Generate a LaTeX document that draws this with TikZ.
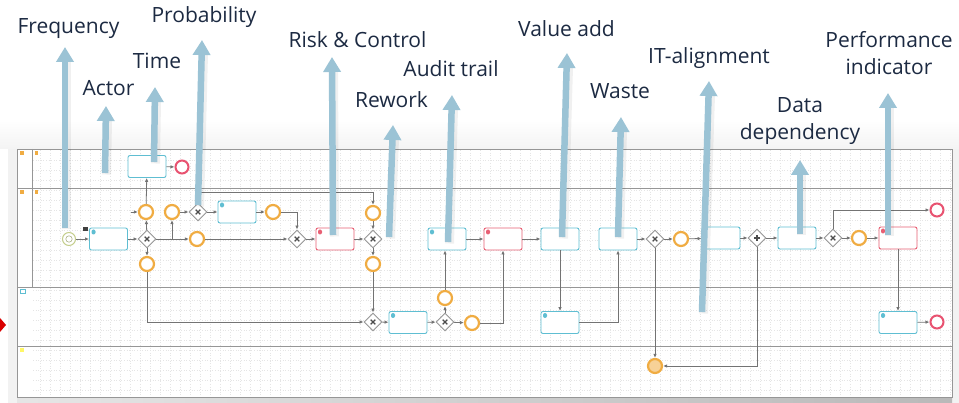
\documentclass[tikz,border=0pt]{standalone}
\usepackage{fontspec}
\setmainfont{Open Sans}
\usetikzlibrary{positioning}
\usetikzlibrary{shapes.geometric,arrows.meta}

\definecolor{labelnavy}{RGB}{28,42,66}
\definecolor{calloutblue}{RGB}{155,195,213}
\definecolor{taskteal}{RGB}{95,190,210}
\definecolor{taskred}{RGB}{232,96,116}
\definecolor{eventorange}{RGB}{240,172,66}
\definecolor{endred}{RGB}{232,82,112}
\definecolor{startgreen}{RGB}{196,206,140}
\definecolor{flowgray}{RGB}{115,115,115}
\definecolor{lanegray}{RGB}{150,150,150}

\tikzset{
  lbl/.style={font=\fontsize{21}{27.5}\selectfont, text=labelnavy, inner sep=0pt, anchor=base, align=center},
  callout/.style={draw=calloutblue, line width=6.5pt, -{Triangle[width=17pt,length=15pt]}},
  calloutshade/.style={draw=black, opacity=0.06, line width=9pt},
  task/.style={draw=taskteal, fill=white, line width=0.9pt, rounded corners=2pt,
    minimum width=38pt, minimum height=22pt, inner sep=0pt},
  redtask/.style={task, draw=taskred},
  marked/.style={path picture={\fill[#1] ([shift={(2pt,-1.5pt)}]path picture bounding box.north west) rectangle ++(4pt,-5pt);}},
  gateway/.style={diamond, draw=lanegray, fill=white, line width=0.9pt, minimum size=18pt, inner sep=0pt},
  xgate/.style={gateway, path picture={
    \draw[line width=1.3pt, black!70] ([shift={(-2.3pt,-2.3pt)}]path picture bounding box.center) -- ++(4.6pt,4.6pt)
      ([shift={(-2.3pt,2.3pt)}]path picture bounding box.center) -- ++(4.6pt,-4.6pt);}},
  pgate/.style={gateway, path picture={
    \draw[line width=1.3pt, black!70] ([shift={(-3pt,0pt)}]path picture bounding box.center) -- ++(6pt,0pt)
      ([shift={(0pt,-3pt)}]path picture bounding box.center) -- ++(0pt,6pt);}},
  event/.style={circle, draw=eventorange, fill=white, line width=2.2pt, minimum size=14pt, inner sep=0pt},
  msgevent/.style={event, fill=eventorange!55},
  endevent/.style={circle, draw=endred, fill=white, line width=2pt, minimum size=13pt, inner sep=0pt},
  startevent/.style={circle, draw=startgreen, fill=white, line width=1pt, minimum size=13pt, inner sep=0pt,
    path picture={\draw[startgreen!80!black, line width=0.5pt] (path picture bounding box.center) circle (3.2pt);}},
  flow/.style={draw=flowgray, line width=0.8pt, -{Latex[length=4pt,width=3.5pt]}},
  lane/.style={draw=lanegray, line width=0.9pt},
  gridline/.style={draw=gray!20, line width=0.4pt, dash pattern=on 0.6pt off 2pt},
}

\begin{document}
\begin{tikzpicture}[x=1pt, y=-1pt]
            \useasboundingbox (0,0) rectangle (959,403);

            % Draw the backdrop
            \fill[white] (0,0) rectangle (959,403);
            \shade[top color=white, bottom color=gray!9] (0,120) rectangle (959,149);
            \fill[gray!10] (8,149) rectangle (17,403);
            \fill[gray!10] (952,149) rectangle (959,403);
            \shade[left color=gray!20, right color=gray!55] (17,398) rectangle (952,403);
            \fill[red!85!black] (0,318) -- (6,325) -- (0,332) -- cycle;

            % Draw the pools and lanes
            \fill[white] (17,149) rectangle (952,397);
            \foreach \gx in {40,50,...,950} \draw[gridline] (\gx,150) -- (\gx,396);
            \foreach \gy in {160,170,...,390} \draw[gridline] (33,\gy) -- (951,\gy);
            \draw[lane] (17,149) rectangle (952,397);
            \draw[lane] (17,188) -- (952,188);
            \draw[lane] (17,287) -- (952,287);
            \draw[lane] (17,346) -- (952,346);
            \draw[lane] (32,149) -- (32,287);
            \fill[eventorange] (20,151) rectangle (24,155);
            \fill[eventorange] (20,190) rectangle (24,194);
            \fill[eventorange] (35,151) rectangle (38,155);
            \fill[eventorange] (35,190) rectangle (38,194);
            \draw[taskteal, line width=0.6pt] (20,289) rectangle (25,293);
            \fill[yellow!60] (20,348) rectangle (24,352);

            % Draw the first lane
            \node[task] (check) at (147,166.5) {};
            \node[endevent] (stop) at (182,167) {};

            % Draw the second lane
            \node[startevent] (day) at (69,239) {};
            \node[task, marked=taskteal] (request) at (108.5,239) {};
            \fill[black!75] (83,227) rectangle (88,231);
            \node[xgate] (split) at (147,239) {};
            \node[event] (info) at (146,212) {};
            \coordinate (infoin) at (131,212);
            \node[event] (applied) at (172,212) {};
            \node[xgate] (choice) at (198,212) {};
            \node[task, marked=taskteal] (verify) at (237,212) {};
            \node[event] (verified) at (273,212) {};
            \node[event] (pending) at (197,239) {};
            \node[xgate] (joinA) at (297,239) {};
            \node[event] (rejected) at (147,264) {};
            \node[redtask, marked=taskred] (approve) at (335,239) {};
            \node[xgate] (joinB) at (373,239) {};
            \node[event] (waiting) at (373,213) {};
            \node[event] (checked) at (373,264) {};
            \node[task, marked=taskteal] (register) at (447,239) {};
            \node[redtask, marked=taskred] (archive) at (503,239) {};
            \node[task] (plan) at (560,239) {};
            \node[task] (prepare) at (618,239) {};
            \node[xgate] (choiceC) at (655,239) {};
            \node[event] (notified) at (681,239) {};
            \node[task] (update) at (721,238) {};
            \node[pgate] (fork) at (757,238) {};
            \node[task] (publish) at (797,238) {};
            \node[xgate] (choiceD) at (833,238) {};
            \node[event] (ready) at (859,238) {};
            \node[redtask, marked=taskred] (close) at (898,238) {};
            \node[endevent] (cancelled) at (937,210) {};

            % Draw the third and fourth lane
            \node[xgate] (joinC) at (373,322) {};
            \node[task, marked=taskteal] (digital) at (408,322.5) {};
            \node[xgate] (choiceB) at (445,322) {};
            \node[event] (signed) at (445,298) {};
            \node[event] (unsigned) at (472,323) {};
            \node[task, marked=taskteal] (execute) at (560,322.5) {};
            \node[task, marked=taskteal] (invoice) at (898,322.5) {};
            \node[endevent] (done) at (937,322) {};
            \node[msgevent] (message) at (655,366) {};

            % Draw the sequence flows
            \draw[flow] (day) -- (request);
            \draw[flow] (request) -- (split);
            \draw[flow] (split) -- (info);
            \draw[flow] (infoin) -- (info);
            \draw[flow] (info) -- (check);
            \draw[flow] (check) -- (stop);
            \draw[flow] (split) -- (pending);
            \draw[flow] (split) -| (applied);
            \draw[flow] (applied) -- (choice);
            \draw[flow] (choice) -- (verify);
            \draw[flow] (verify) -- (verified);
            \draw[flow] (verified) -| (joinA);
            \draw[flow] (pending) -- (joinA);
            \draw[flow] (joinA) -- (approve);
            \draw[flow] (approve) -- (joinB);
            \draw[flow] (choice.north) -- ++(0,-10) -| (waiting);
            \draw[flow] (waiting) -- (joinB);
            \draw[flow] (joinB) -- (checked);
            \draw[flow] (checked) -- (joinC);
            \draw[flow] (split) -- (rejected);
            \draw[flow] (rejected) |- (joinC);
            \draw[flow] (joinC) -- (digital);
            \draw[flow] (digital) -- (choiceB);
            \draw[flow] (choiceB) -- (signed);
            \draw[flow] (signed) -- (signed |- register.south);
            \draw[flow] (choiceB) -- (unsigned);
            \draw[flow] (unsigned) -| (archive);
            \draw[flow] (register) -- (archive);
            \draw[flow] (archive) -- (plan);
            \draw[flow] (plan) -- (execute);
            \draw[flow] (execute) -| (prepare);
            \draw[flow] (prepare) -- (choiceC);
            \draw[flow] (choiceC) -- (notified);
            \draw[flow] (notified) -- (update);
            \draw[flow] (update) -- (fork);
            \draw[flow] (fork) -- (publish);
            \draw[flow] (publish) -- (choiceD);
            \draw[flow] (choiceD) -- (ready);
            \draw[flow] (ready) -- (close);
            \draw[flow] (choiceD) |- (cancelled);
            \draw[flow] (close) -- (invoice);
            \draw[flow] (invoice) -- (done);
            \draw[flow] (choiceC) -- (message);
            \draw[flow] (fork) |- (message);

            % Draw the labels
            \node[lbl] (freq) at (68.5,34) {Frequency};
            \node[lbl] (actor) at (108.5,96) {Actor};
            \node[lbl] (time) at (157,69) {Time};
            \node[lbl] (prob) at (204,23) {Probability};
            \node[lbl] (risk) at (357.5,48) {Risk \& Control};
            \node[lbl] (rework) at (391.5,108) {Rework};
            \node[lbl] (audit) at (451,77) {Audit trail};
            \node[lbl] (value) at (566.5,37) {Value add};
            \node[lbl] (waste) at (620,99) {Waste};
            \node[lbl] (italign) at (709,64) {IT-alignment};
            \node[lbl] (data) at (800,140) {Data\\dependency};
            \node[lbl] (perf) at (889,75) {Performance\\indicator};

            % Draw the arrows to the labels
            \foreach \name/\fx/\fy/\tx/\ty in {freq/65/228/65/47, actor/105/173/106/106, time/154/162/155/87,
                prob/198/205/202/40, risk/333/235/332/57, rework/389/237/393/125, audit/448/242/452/95,
                value/562/237/567/53, waste/618/237/621/117, italign/702/312/709/81,
                data/800/234/800/160, perf/888/235/888/93} {
              \coordinate (\name foot) at (\fx,\fy);
              \coordinate (\name tip) at (\tx,\ty);
              \draw[calloutshade] ([shift={(1.5,1.5)}]\name foot) -- ([shift={(1.5,14)}]\name tip);
              \draw[callout] (\name foot) -- (\name tip);
            }

        \end{tikzpicture}
\end{document}
